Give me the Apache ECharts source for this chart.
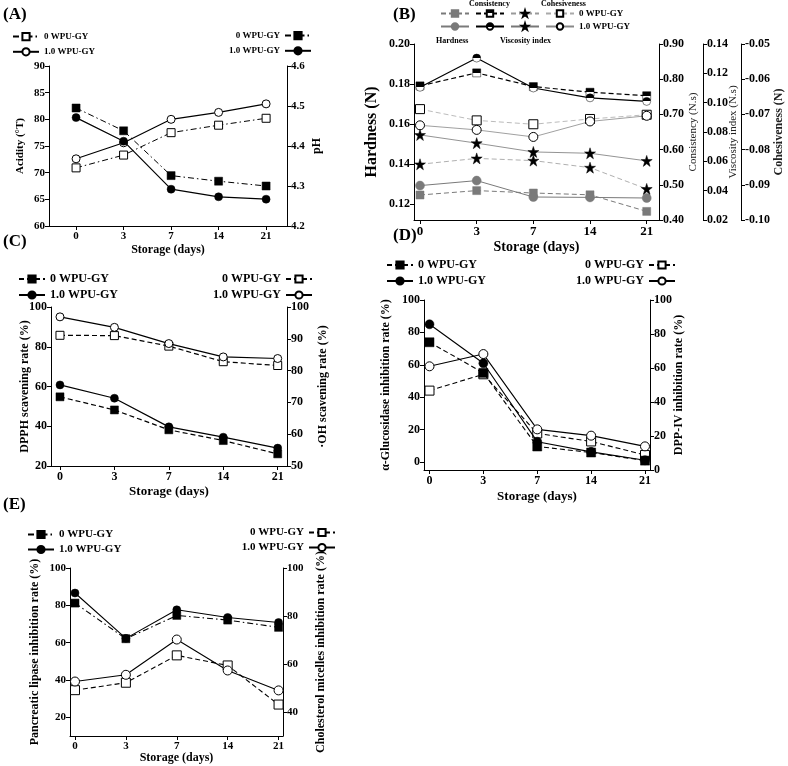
<!DOCTYPE html>
<html>
<head>
<meta charset="utf-8">
<title>Storage panels</title>
<script src="https://cdn.jsdelivr.net/npm/echarts@6/dist/echarts.min.js"></script>
<style>
html, body { margin:0; padding:0; background:#fff; }
#main { width:788px; height:766px; }
</style>
</head>
<body>
<div id="main"></div>
<script>
// storage days (x axis)
var days = ['0', '3', '7', '14', '21'];

// (A) acidity (left) and pH (right)
var acid0 = [70.9, 73.3, 77.5, 78.9, 80.2];
var acid1 = [72.6, 75.6, 80.0, 81.3, 82.9];
var ph0 = [4.495, 4.438, 4.326, 4.312, 4.300];
var ph1 = [4.471, 4.412, 4.292, 4.273, 4.267];

// (B) texture
var hard0 = [0.1245, 0.1267, 0.1255, 0.1246, 0.1163];
var hard1 = [0.1292, 0.1317, 0.1235, 0.1233, 0.1230];
var cons0 = [0.781, 0.818, 0.779, 0.763, 0.753];
var cons1 = [0.777, 0.860, 0.775, 0.747, 0.737];
var visc0 = [0.058, 0.062, 0.0605, 0.0557, 0.0412];
var visc1 = [0.078, 0.0724, 0.0664, 0.0655, 0.0603];
var cohe0 = [-0.0685, -0.0717, -0.0728, -0.0713, -0.0701];
var cohe1 = [-0.0731, -0.0744, -0.0764, -0.0720, -0.0704];

// (C) DPPH (left) and OH (right)
var dpph0 = [54.8, 48.2, 38.2, 32.8, 26.1];
var dpph1 = [60.8, 54.1, 39.7, 34.5, 29.0];
var oh0 = [91.1, 91.0, 87.7, 82.8, 81.6];
var oh1 = [96.9, 93.6, 88.5, 84.3, 83.8];

// (D) alpha-glucosidase (left) and DPP-IV (right)
var glu0 = [73.9, 55.0, 9.5, 5.8, 0.8];
var glu1 = [85.0, 60.9, 12.5, 6.2, 1.0];
var dpp0 = [46.7, 56.3, 21.5, 16.8, 8.8];
var dpp1 = [61.0, 68.2, 23.9, 20.2, 13.9];

// (E) pancreatic lipase (left) and cholesterol micelles (right)
var lip0 = [81.2, 62.1, 74.6, 72.1, 68.2];
var lip1 = [86.6, 62.3, 77.6, 73.5, 70.8];
var chol0 = [49.1, 52.2, 63.6, 59.4, 43.1];
var chol1 = [52.7, 55.5, 70.2, 57.3, 49.0];

// tick labels
var tA1 = [60, 65, 70, 75, 80, 85, 90];
var tA2 = [4.2, 4.3, 4.4, 4.5, 4.6];
var tB1 = [0.12, 0.14, 0.16, 0.18, 0.20];
var tB2 = [0.4, 0.5, 0.6, 0.7, 0.8, 0.9];
var tB3 = [0.02, 0.04, 0.06, 0.08, 0.10, 0.12, 0.14];
var tB4 = [-0.10, -0.09, -0.08, -0.07, -0.06, -0.05];
var tC1 = [20, 40, 60, 80, 100];
var tC2 = [50, 60, 70, 80, 90, 100];
var tD = [0, 20, 40, 60, 80, 100];
var tE1 = [20, 40, 60, 80, 100];
var tE2 = [40, 60, 80, 100];

var FONT = "'Liberation Serif', 'Times New Roman', serif";
var myChart = echarts.init(document.getElementById('main'));

function pts(arr) {
    return arr.map(function (v, i) { return [i, v]; });
}

function xAx(gi, min, max, gap, fs) {
    return {
        type: 'value', gridIndex: gi, min: min, max: max,
        axisLine: { show: true, onZero: false, lineStyle: { color: '#000', width: 1 } },
        axisTick: { show: true, customValues: [0, 1, 2, 3, 4], length: 4, lineStyle: { color: '#000' } },
        axisLabel: {
            customValues: [0, 1, 2, 3, 4],
            formatter: function (v) { return days[Math.round(v)]; },
            color: '#000', fontFamily: FONT, fontWeight: 'bold', fontSize: fs, margin: 5
        },
        splitLine: { show: false },
        name: 'Storage (days)', nameLocation: 'middle', nameGap: gap, nameMoveOverlap: false,
        nameTextStyle: { color: '#000', fontFamily: FONT, fontWeight: 'bold', fontSize: fs + 1 }
    };
}

function yAx(gi, pos, min, max, ticks, dec, name, gap, fs, nfs, extra) {
    var a = {
        type: 'value', gridIndex: gi, position: pos, min: min, max: max,
        axisLine: { show: true, onZero: false, lineStyle: { color: '#000', width: 1 } },
        axisTick: { show: true, customValues: ticks, length: 4, lineStyle: { color: '#000' } },
        axisLabel: {
            customValues: ticks,
            formatter: function (v) { return v.toFixed(dec); },
            color: '#000', fontFamily: FONT, fontWeight: 'bold', fontSize: fs, margin: 4
        },
        splitLine: { show: false },
        name: name, nameLocation: 'middle', nameGap: gap, nameMoveOverlap: false,
        nameTruncate: { maxWidth: 400 },
        nameTextStyle: { color: '#000', fontFamily: FONT, fontWeight: 'bold', fontSize: nfs }
    };
    if (extra) { for (var k in extra) { a[k] = extra[k]; } }
    return a;
}

var DASH = [5, 3];
var DASHDOT = [6, 3, 1.5, 3];
var STAR = 'path://M50,2 L61,36 L97,36 L68,57 L79,92 L50,71 L21,92 L32,57 L3,36 L39,36 Z';

function halfFill() {
    return new echarts.graphic.LinearGradient(0, 0, 0, 1, [
        { offset: 0, color: '#000' }, { offset: 0.5, color: '#000' },
        { offset: 0.5, color: '#fff' }, { offset: 1, color: '#fff' }
    ]);
}

function ser(name, xi, yi, arr, symbol, size, fill, lineColor, lineType, lineWidth, border) {
    return {
        name: name, type: 'line', xAxisIndex: xi, yAxisIndex: yi,
        data: pts(arr), symbol: symbol, symbolSize: size, showSymbol: true,
        z: fill === '#fff' ? 3 : 4,
        itemStyle: { color: fill, borderColor: border || '#000', borderWidth: fill === '#fff' ? 1 : 0.5, opacity: 1 },
        lineStyle: { color: lineColor, type: lineType, width: lineWidth },
        emphasis: { disabled: true },
        animation: false
    };
}

var labels = {
    a0: '0 WPU-GY', a1: '1.0 WPU-GY', p0: '0 WPU-GY', p1: '1.0 WPU-GY',
    h0: '', h1: '', c0: '', c1: '', v0: '', v1: '', o0: '0 WPU-GY', o1: '1.0 WPU-GY',
    d0: '0 WPU-GY', d1: '1.0 WPU-GY', oh0: '0 WPU-GY', oh1: '1.0 WPU-GY',
    g0: '0 WPU-GY', g1: '1.0 WPU-GY', dp0: '0 WPU-GY', dp1: '1.0 WPU-GY',
    l0: '0 WPU-GY', l1: '1.0 WPU-GY', ch0: '0 WPU-GY', ch1: '1.0 WPU-GY'
};

function leg(data, pos, fs, gap, align, w) {
    var l = {
        data: data, orient: 'vertical', itemGap: gap, itemWidth: w || 26, itemHeight: 9,
        align: align || 'left', selectedMode: false, padding: 0,
        formatter: function (n) { return labels[n]; },
        textStyle: { color: '#000', fontFamily: FONT, fontWeight: 'bold', fontSize: fs }
    };
    for (var k in pos) { l[k] = pos[k]; }
    return l;
}

var gray = '#7a7a7a';
var sideName = { color: '#222', fontFamily: FONT, fontSize: 11 };

var option = {
    backgroundColor: '#fff',
    animation: false,
    grid: [
        { left: 49, top: 66, width: 238, height: 160, outerBoundsMode: 'none' },
        { left: 414, top: 44, width: 245, height: 176, outerBoundsMode: 'none' },
        { left: 51, top: 307, width: 236, height: 159, outerBoundsMode: 'none' },
        { left: 424, top: 300, width: 226, height: 170, outerBoundsMode: 'none' },
        { left: 70, top: 568, width: 213, height: 168, outerBoundsMode: 'none' }
    ],
    xAxis: [
        xAx(0, -0.57, 4.44, 18, 11),
        xAx(1, -0.106, 4.217, 20, 13),
        xAx(2, -0.165, 4.171, 19, 12),
        xAx(3, -0.102, 4.093, 20, 12),
        xAx(4, -0.098, 4.087, 16, 11)
    ],
    yAxis: [
        yAx(0, 'left', 60, 90, tA1, 0, 'Acidity (°T)', 23, 11, 11),
        yAx(0, 'right', 4.2, 4.6, tA2, 1, 'pH', 24, 11, 12),
        yAx(1, 'left', 0.112, 0.20, tB1, 2, 'Hardness (N)', 34, 12, 16),
        yAx(1, 'right', 0.4, 0.9, tB2, 2, 'Consistency (N.s)', 29, 12, 11, { nameTextStyle: sideName }),
        yAx(1, 'right', 0.02, 0.14, tB3, 2, 'Viscosity index (N.s)', 25, 12, 11, { offset: 44, nameTextStyle: sideName }),
        yAx(1, 'right', -0.10, -0.05, tB4, 2, 'Cohesiveness (N)', 32, 12, 12, { offset: 82, nameTextStyle: { color: '#222', fontFamily: FONT, fontWeight: 'bold', fontSize: 12 } }),
        yAx(2, 'left', 20, 100, tC1, 0, 'DPPH scavening rate (%)', 20, 12, 12),
        yAx(2, 'right', 50, 100, tC2, 0, '·OH scavening rate (%)', 30, 12, 12),
        yAx(3, 'left', -5, 100, tD, 0, 'α-Glucosidase inhibition rate (%)', 32, 12, 12),
        yAx(3, 'right', 0, 100, tD, 0, 'DPP-IV inhibition rate (%)', 23, 12, 12),
        yAx(4, 'left', 10, 100, tE1, 0, 'Pancreatic lipase inhibition rate (%)', 29, 11, 12),
        yAx(4, 'right', 30, 100, tE2, 0, 'Cholesterol micelles inhibition rate (%)', 32, 11, 12)
    ],
    legend: [
        leg(['a0', 'a1'], { left: 12, top: 32 }, 9, 6),
        leg(['p0', 'p1'], { right: 476, top: 31 }, 9, 6, 'right'),
        {
            data: ['h0', 'c0', 'v0', 'o0'], orient: 'horizontal', left: 440, top: 9, itemGap: 5,
            itemWidth: 28, itemHeight: 8, selectedMode: false, padding: 0,
            formatter: function (n) { return labels[n]; },
            textStyle: { color: '#000', fontFamily: FONT, fontWeight: 'bold', fontSize: 9 }
        },
        {
            data: ['h1', 'c1', 'v1', 'o1'], orient: 'horizontal', left: 440, top: 22, itemGap: 5,
            itemWidth: 28, itemHeight: 8, selectedMode: false, padding: 0,
            formatter: function (n) { return labels[n]; },
            textStyle: { color: '#000', fontFamily: FONT, fontWeight: 'bold', fontSize: 9 }
        },
        leg(['d0', 'd1'], { left: 18, top: 273 }, 12, 4),
        leg(['oh0', 'oh1'], { right: 475, top: 273 }, 12, 4, 'right'),
        leg(['g0', 'g1'], { left: 386, top: 259 }, 12, 4),
        leg(['dp0', 'dp1'], { right: 112, top: 259 }, 12, 4, 'right'),
        leg(['l0', 'l1'], { left: 27, top: 529 }, 11, 4),
        leg(['ch0', 'ch1'], { right: 452, top: 527 }, 11, 4, 'right')
    ],
    graphic: [
        { type: 'text', left: 3, top: 6, style: { text: '(A)', font: 'bold 17px ' + FONT, fill: '#000' } },
        { type: 'text', left: 393, top: 6, style: { text: '(B)', font: 'bold 17px ' + FONT, fill: '#000' } },
        { type: 'text', left: 3, top: 233, style: { text: '(C)', font: 'bold 17px ' + FONT, fill: '#000' } },
        { type: 'text', left: 393, top: 227, style: { text: '(D)', font: 'bold 17px ' + FONT, fill: '#000' } },
        { type: 'text', left: 3, top: 496, style: { text: '(E)', font: 'bold 17px ' + FONT, fill: '#000' } },
        { type: 'text', left: 469, top: 0, style: { text: 'Consistency', font: 'bold 8px ' + FONT, fill: '#000' } },
        { type: 'text', left: 541, top: 0, style: { text: 'Cohesiveness', font: 'bold 8px ' + FONT, fill: '#000' } },
        { type: 'text', left: 436, top: 37, style: { text: 'Hardness', font: 'bold 8px ' + FONT, fill: '#000' } },
        { type: 'text', left: 500, top: 37, style: { text: 'Viscosity index', font: 'bold 8px ' + FONT, fill: '#000' } }
    ],
    series: [
        // A
        ser('a0', 0, 0, acid0, 'rect', 8, '#fff', '#000', DASHDOT, 1),
        ser('a1', 0, 0, acid1, 'circle', 8, '#fff', '#000', 'solid', 1.2),
        ser('p0', 0, 1, ph0, 'rect', 8, '#000', '#000', DASHDOT, 1),
        ser('p1', 0, 1, ph1, 'circle', 8, '#000', '#000', 'solid', 1.2),
        // B
        ser('h0', 1, 2, hard0, 'rect', 8, gray, gray, DASH, 1, gray),
        ser('h1', 1, 2, hard1, 'circle', 9, gray, gray, 'solid', 1, gray),
        ser('c0', 1, 3, cons0, 'rect', 8, halfFill(), '#000', DASH, 1.2),
        ser('c1', 1, 3, cons1, 'circle', 8, halfFill(), '#000', 'solid', 1.2),
        ser('v0', 1, 4, visc0, STAR, 11, '#000', '#9a9a9a', DASH, 0.8),
        ser('v1', 1, 4, visc1, STAR, 11, '#000', '#777', 'solid', 0.8),
        ser('o0', 1, 5, cohe0, 'rect', 9, '#fff', '#aaa', DASH, 0.8),
        ser('o1', 1, 5, cohe1, 'circle', 9, '#fff', '#888', 'solid', 0.8),
        // C
        ser('d0', 2, 6, dpph0, 'rect', 8, '#000', '#000', DASH, 1.2),
        ser('d1', 2, 6, dpph1, 'circle', 8, '#000', '#000', 'solid', 1.2),
        ser('oh0', 2, 7, oh0, 'rect', 8, '#fff', '#000', DASH, 1.2),
        ser('oh1', 2, 7, oh1, 'circle', 8, '#fff', '#000', 'solid', 1.2),
        // D
        ser('g0', 3, 8, glu0, 'rect', 9, '#000', '#000', DASH, 1.1),
        ser('g1', 3, 8, glu1, 'circle', 9, '#000', '#000', 'solid', 1.1),
        ser('dp0', 3, 9, dpp0, 'rect', 9, '#fff', '#000', DASH, 1.1),
        ser('dp1', 3, 9, dpp1, 'circle', 9, '#fff', '#000', 'solid', 1.1),
        // E
        ser('l0', 4, 10, lip0, 'rect', 8, '#000', '#000', DASHDOT, 1.1),
        ser('l1', 4, 10, lip1, 'circle', 8, '#000', '#000', 'solid', 1.1),
        ser('ch0', 4, 11, chol0, 'rect', 9, '#fff', '#000', DASH, 1.1),
        ser('ch1', 4, 11, chol1, 'circle', 9, '#fff', '#000', 'solid', 1.1)
    ]
};

myChart.setOption(option);
</script>
</body>
</html>
